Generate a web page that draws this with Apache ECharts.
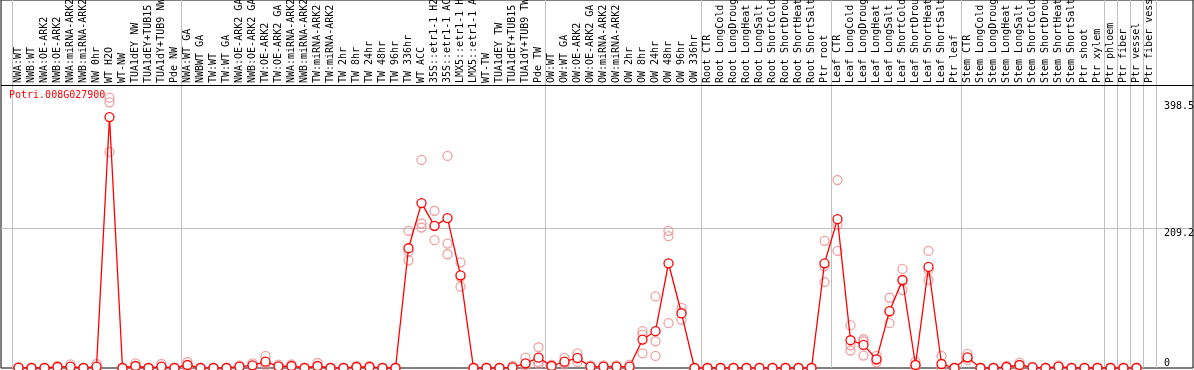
<!DOCTYPE html>
<html>
<head>
<meta charset="utf-8">
<style>
  html, body { margin: 0; padding: 0; background: #fff; }
  #chart { width: 1194px; height: 370px; }
</style>
<script src="https://cdn.jsdelivr.net/npm/echarts@6/dist/echarts.min.js"></script>
</head>
<body>
<div id="chart"></div>
<script>
const geneName = 'Potri.008G027900'

const categories = [
  'NWA:WT', 'NWB:WT', 'NWA:OE-ARK2', 'NWB:OE-ARK2', 'NWA:miRNA-ARK2', 'NWB:miRNA-ARK2', 'NW 0hr', 'WT H2O',
  'WT-NW', 'TUA1dEY NW', 'TUA1dEY+TUB15 NW', 'TUA1dY+TUB9 NW', 'Pde NW',
  'NWA:WT GA', 'NWBWT GA', 'TW:WT', 'TW:WT GA', 'NWA:OE-ARK2 GA', 'NWB:OE-ARK2 GA', 'TW:OE-ARK2', 'TW:OE-ARK2 GA',
  'NWA:miRNA-ARK2', 'NWB:miRNA-ARK2', 'TW:miRNA-ARK2', 'TW:miRNA-ARK2', 'TW 2hr', 'TW 8hr', 'TW 24hr', 'TW 48hr',
  'TW 96hr', 'TW 336hr', 'WT ACC', '35S::etr1-1 H2O', '35S::etr1-1 ACC', 'LMX5::etr1-1 H2O', 'LMX5::etr1-1 ACC',
  'WT-TW', 'TUA1dEY TW', 'TUA1dEY+TUB15 TW', 'TUA1dY+TUB9 TW', 'Pde TW',
  'OW:WT', 'OW:WT GA', 'OW:OE-ARK2', 'OW:OE-ARK2 GA', 'OW:miRNA-ARK2', 'OW:miRNA-ARK2', 'OW 2hr', 'OW 8hr',
  'OW 24hr', 'OW 48hr', 'OW 96hr', 'OW 336hr',
  'Root CTR', 'Root LongCold', 'Root LongDrought', 'Root LongHeat', 'Root LongSalt', 'Root ShortCold',
  'Root ShortDrought', 'Root ShortHeat', 'Root ShortSalt', 'Ptr root',
  'Leaf CTR', 'Leaf LongCold', 'Leaf LongDrought', 'Leaf LongHeat', 'Leaf LongSalt', 'Leaf ShortCold',
  'Leaf ShortDrought', 'Leaf ShortHeat', 'Leaf ShortSalt', 'Ptr leaf',
  'Stem CTR', 'Stem LongCold', 'Stem LongDrought', 'Stem LongHeat', 'Stem LongSalt', 'Stem ShortCold',
  'Stem ShortDrought', 'Stem ShortHeat', 'Stem ShortSalt', 'Ptr shoot', 'Ptr xylem',
  'Ptr phloem', 'Ptr fiber', 'Ptr vessel', 'Ptr fiber vessel'
]

// mean expression per sample
const meanValues = [
  0.5, 0, 0, 1.5, 2, 0, 2, 375, 0, 3, 0, 2, 0,
  4.5, 0, 0, 0, 2, 4, 9.5, 2.5, 3, 0, 3, 0, 0, 1.5, 1.5, 0, 0, 179, 246.5, 212.5, 224, 138.5, 0, 0, 0, 1, 7,
  15.5, 3, 9.5, 15, 2, 2, 2, 2, 42.5, 55, 156.5, 81.5,
  0, 0, 0, 0, 0, 0, 0, 0, 0, 0,
  156.5, 222.5, 41.5, 34.5, 13, 85, 131.5, 4.5, 151, 6,
  0, 16, 0, 0, 1.5, 4.5, 1, 0, 2, 0, 0,
  0, 0, 0, 0
]

// individual replicates
const rep1 = [
  1, 0, 0, 3, 5.5, 0, 6, 404, 0, 7, 0, 6, 0,
  9, 0, 0, 0, 4, 7, 18, 5, 5.5, 0, 7.5, 0, 0, 3, 3, 0, 0, 205, 311, 235, 317, 158, 0, 0, 0, 3, 15.5,
  31, 5, 15, 22, 4, 4, 4, 5, 55, 107, 205, 90,
  0, 0, 0, 0, 0, 0, 0, 0, 0, 0,
  190, 281, 64, 43, 18, 105, 148, 9.5, 175, 18,
  0, 21, 0, 0, 3, 8, 2, 0, 4, 0, 0,
  0, 0, 0, 0
]
const rep2 = [
  0.5, 0, 0, 1, 0.5, 0, 0, 397, 0, 2, 0, 0, 0,
  3, 0, 0, 0, 1, 3, 7, 2, 2.5, 0, 1, 0, 0, 1, 1, 0, 0, 174, 216, 212, 186, 136, 0, 0, 0, 0, 4.5,
  9, 3, 8, 14, 1.5, 1.5, 1.5, 1, 50, 40, 197, 83,
  0, 0, 0, 0, 0, 0, 0, 0, 0, 0,
  152, 214, 34, 40, 12.5, 84, 130, 2, 146.5, 0,
  0, 15, 0, 0, 1, 4, 1, 0, 1.5, 0, 0,
  0, 0, 0, 0
]
const rep3 = [
  0, 0, 0, 0.5, 0, 0, 0, 323, 0, 0, 0, 0, 0,
  1.5, 0, 0, 0, 1, 2, 3.5, 0.5, 1, 0, 0.5, 0, 0, 0.5, 0.5, 0, 0, 161, 210, 191, 170, 121.5, 0, 0, 0, 0, 1,
  6, 1, 5.5, 9, 0.5, 0.5, 0.5, 0, 22, 18, 67, 72,
  0, 0, 0, 0, 0, 0, 0, 0, 0, 0,
  128.5, 175, 26, 18.5, 8.5, 67, 116.5, 2, 131.5, 0,
  0, 12, 0, 0, 0.5, 1.5, 0, 0, 0.5, 0, 0,
  0, 0, 0, 0
]

// first sample of each block: a grey separator is drawn on its left side
const groupStarts = [0, 13, 41, 53, 63, 73, 84, 85, 86, 87]
const yLabelValues = [209.2, 398.5]
const yGridValues = [209.2]
const yZeroLabel = [0]
const yMax = 550

const mono = 'DejaVu Sans Mono'
const chart = echarts.init(document.getElementById('chart'))

const repSeries = [rep1, rep2, rep3].map(d => ({
  type: 'scatter',
  xAxisIndex: 1,
  yAxisIndex: 2,
  data: d,
  symbol: 'circle',
  symbolSize: 9,
  silent: true,
  z: 2,
  itemStyle: { color: 'rgba(0,0,0,0)', borderColor: '#e98c8c', borderWidth: 1.3 }
}))

chart.setOption({
  animation: false,
  title: {
    text: geneName,
    left: 9,
    top: 90,
    padding: 0,
    textStyle: { color: '#ff0000', fontFamily: mono, fontSize: 10, fontWeight: 'normal' }
  },
  grid: [
    { left: 1, right: 1, top: 0, bottom: 2, show: true, borderColor: '#000', borderWidth: 1, backgroundColor: 'transparent', outerBoundsMode: 'none' },
    { left: 12, width: 1144, top: 0, bottom: 2, outerBoundsMode: 'none' }
  ],
  graphic: [
    { type: 'line', shape: { x1: 1, y1: 85.5, x2: 1193, y2: 85.5 }, style: { stroke: '#000', lineWidth: 1 }, z: 10 }
  ],
  xAxis: [
    { gridIndex: 0, type: 'value', show: false },
    {
      gridIndex: 1,
      type: 'category',
      position: 'top',
      offset: -85,
      data: categories,
      boundaryGap: true,
      axisLine: { show: false },
      axisTick: { show: false },
      axisLabel: { interval: 0, rotate: 90, margin: 2, fontFamily: mono, fontSize: 10, color: '#000' },
      splitLine: {
        show: true,
        interval: (i) => groupStarts.includes(i),
        lineStyle: { color: '#c0c0c0', width: 1 }
      }
    }
  ],
  yAxis: [
    {
      gridIndex: 0, type: 'value', min: 0, max: yMax, position: 'right',
      axisLine: { show: false },
      axisTick: { show: false, customValues: yGridValues },
      axisLabel: {
        customValues: yLabelValues, inside: true, align: 'left', margin: 29,
        verticalAlign: 'top', fontFamily: mono, fontSize: 10, color: '#000'
      },
      splitLine: { show: true, lineStyle: { color: '#c0c0c0', width: 1 } }
    },
    {
      gridIndex: 0, type: 'value', min: 0, max: yMax, position: 'right',
      axisLine: { show: false },
      axisTick: { show: false },
      axisLabel: {
        customValues: yZeroLabel, inside: true, align: 'left', margin: 29,
        verticalAlign: 'bottom', fontFamily: mono, fontSize: 10, color: '#000'
      },
      splitLine: { show: false }
    },
    { gridIndex: 1, type: 'value', min: 0, max: yMax, show: false }
  ],
  series: [
    ...repSeries,
    {
      type: 'line',
      xAxisIndex: 1,
      yAxisIndex: 2,
      data: meanValues,
      symbol: 'circle',
      symbolSize: 9,
      silent: true,
      z: 3,
      lineStyle: { color: '#ff0000', width: 1.3 },
      itemStyle: { color: '#ffffff', borderColor: '#ff0000', borderWidth: 1.3 }
    }
  ]
})
</script>
</body>
</html>
